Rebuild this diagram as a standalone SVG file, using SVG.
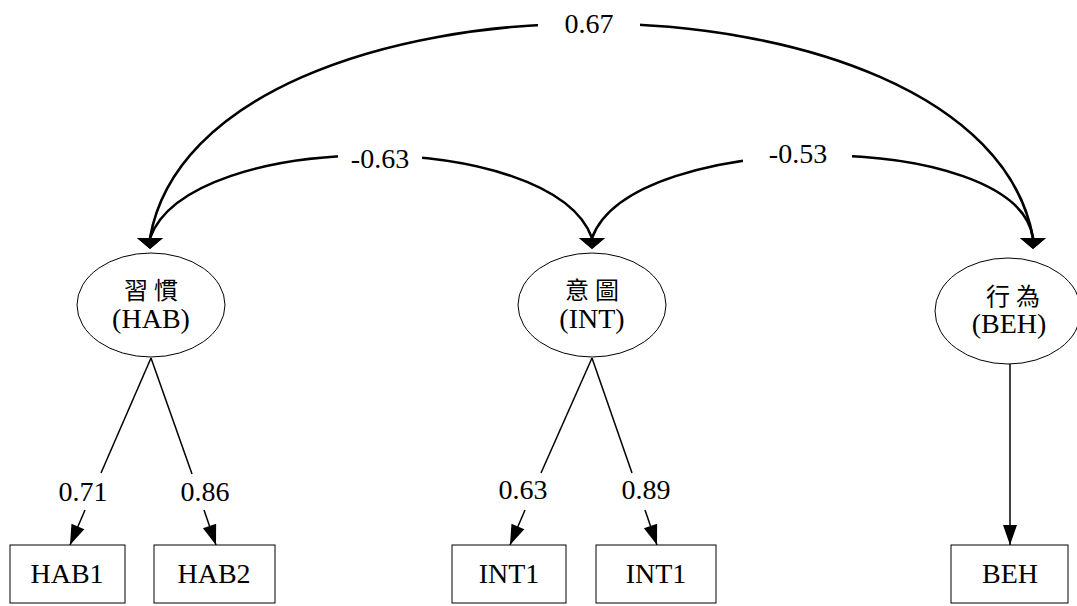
<svg xmlns="http://www.w3.org/2000/svg" width="1077" height="606" viewBox="0 0 1077 606">
  <style>
    .lbl { font-family: 'Liberation Serif', 'Times New Roman', serif; font-size: 28px; fill: #000; text-anchor: middle; }
    .cjk { font-family: 'Liberation Serif', 'Noto Sans CJK TC', serif; font-size: 24px; fill: #000; text-anchor: middle; letter-spacing: 6px; }
    .node { fill: #fff; stroke: #000; stroke-width: 1; }
    .cov { fill: none; stroke: #000; stroke-width: 2.6; }
    .load { fill: none; stroke: #000; stroke-width: 1.5; }
    .gap { fill: #fff; stroke: none; }
  </style>
  <defs>
    <!-- flat, wide head for covariance arcs, always pointing down -->
    <marker id="headDown" markerUnits="userSpaceOnUse" markerWidth="14" markerHeight="30" refX="0" refY="14" orient="90" overflow="visible">
      <path d="M0,1 L11,14 L0,27 z" fill="#000"/>
    </marker>
    <!-- narrow head for loading arrows -->
    <marker id="head" markerUnits="userSpaceOnUse" markerWidth="22" markerHeight="16" refX="20" refY="8" orient="auto" overflow="visible">
      <path d="M0,1 L20,8 L0,15 z" fill="#000"/>
    </marker>
  </defs>

  <rect width="1077" height="606" fill="#fff"/>

  <g id="connectors">
    <!-- covariance arcs between latent factors -->
    <path class="cov" d="M150,238 C200,-48 982,-48 1033,238" marker-start="url(#headDown)" marker-end="url(#headDown)"/>
    <path class="cov" d="M150,238 C190,128 552,128 592,238" marker-start="url(#headDown)" marker-end="url(#headDown)"/>
    <path class="cov" d="M592,238 C632,128 1017,128 1033,238" marker-start="url(#headDown)" marker-end="url(#headDown)"/>

    <!-- breaks in the arcs behind their labels -->
    <rect class="gap" x="538" y="8" width="102" height="34"/>
    <rect class="gap" x="338" y="142" width="84" height="34"/>
    <rect class="gap" x="743" y="138" width="109" height="34"/>
    <text class="lbl" x="589" y="33">0.67</text>
    <text class="lbl" x="380" y="168">-0.63</text>
    <text class="lbl" x="798" y="163">-0.53</text>

    <!-- factor loadings -->
    <line class="load" x1="151" y1="358" x2="101" y2="473"/>
    <line class="load" x1="85" y1="510" x2="70" y2="545" marker-end="url(#head)"/>
    <text class="lbl" x="83" y="501">0.71</text>

    <line class="load" x1="151" y1="358" x2="192" y2="474"/>
    <line class="load" x1="204" y1="510" x2="216" y2="545" marker-end="url(#head)"/>
    <text class="lbl" x="205" y="501">0.86</text>

    <line class="load" x1="592" y1="358" x2="541" y2="473"/>
    <line class="load" x1="525" y1="510" x2="510" y2="545" marker-end="url(#head)"/>
    <text class="lbl" x="523" y="499">0.63</text>

    <line class="load" x1="592" y1="358" x2="632" y2="473"/>
    <line class="load" x1="645" y1="510" x2="657" y2="545" marker-end="url(#head)"/>
    <text class="lbl" x="646" y="499">0.89</text>

    <line class="load" x1="1010" y1="364" x2="1010" y2="545" marker-end="url(#head)"/>
  </g>

  <g id="HAB">
    <ellipse class="node" cx="151" cy="305" rx="74" ry="52"/>
    <text class="cjk" x="154" y="299">習慣</text>
    <text class="lbl" x="151" y="328">(HAB)</text>
  </g>
  <g id="INT">
    <ellipse class="node" cx="592" cy="305" rx="74" ry="52"/>
    <text class="cjk" x="595" y="299">意圖</text>
    <text class="lbl" x="592" y="328">(INT)</text>
  </g>
  <g id="BEH">
    <ellipse class="node" cx="1008" cy="311" rx="73" ry="53"/>
    <text class="cjk" x="1016" y="305">行為</text>
    <text class="lbl" x="1009" y="333">(BEH)</text>
  </g>

  <g id="HAB1">
    <rect class="node" x="10" y="545" width="115" height="58"/>
    <text class="lbl" x="67" y="583">HAB1</text>
  </g>
  <g id="HAB2">
    <rect class="node" x="154" y="545" width="121" height="58"/>
    <text class="lbl" x="214" y="583">HAB2</text>
  </g>
  <g id="INT1a">
    <rect class="node" x="452" y="545" width="114" height="58"/>
    <text class="lbl" x="509" y="583">INT1</text>
  </g>
  <g id="INT1b">
    <rect class="node" x="596" y="545" width="120" height="58"/>
    <text class="lbl" x="656" y="583">INT1</text>
  </g>
  <g id="BEHobs">
    <rect class="node" x="951" y="545" width="117" height="58"/>
    <text class="lbl" x="1010" y="583">BEH</text>
  </g>
</svg>
